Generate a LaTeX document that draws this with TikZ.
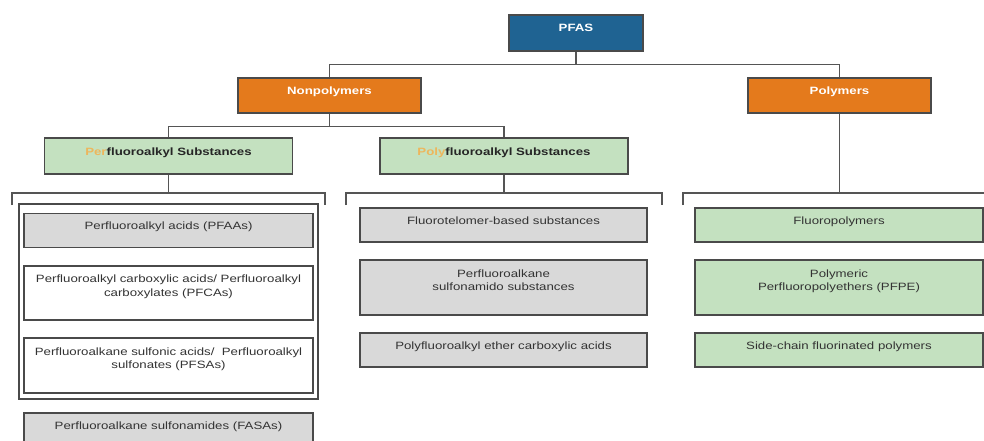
\documentclass[tikz,border=0pt]{standalone}
\usepackage{fontspec}
\setmainfont{Liberation Sans}[FakeStretch=1.25]
\definecolor{pfasblue}{HTML}{1F6392}
\definecolor{orangebox}{HTML}{E47A1C}
\definecolor{greenbox}{HTML}{C4E1C0}
\definecolor{graybox}{HTML}{D9D9D9}
\definecolor{boxline}{HTML}{4A4A4A}
\definecolor{wiregray}{HTML}{555555}
\definecolor{tint}{HTML}{EDB65C}
\definecolor{textgray}{HTML}{333333}
\tikzset{
  base/.style={draw=boxline, line width=1.3pt, inner sep=0pt, align=center, text=textgray,
    font=\fontsize{10.6}{13.5}\selectfont},
  oneline/.style={base, minimum height=34, text height=8pt, text depth=10pt},
  twoline/.style={base, minimum height=55, text depth=15pt},
  top/.style={oneline, fill=pfasblue, text=white, font=\fontsize{10.6}{13.5}\selectfont\bfseries,
    minimum width=134, minimum height=36},
  head/.style={oneline, fill=orangebox, text=white, font=\fontsize{10.6}{13.5}\selectfont\bfseries,
    minimum width=183, minimum height=35},
  sub/.style={oneline, fill=greenbox, text=black!85, font=\fontsize{10.6}{13.5}\selectfont\bfseries,
    minimum width=248, minimum height=36},
  frame/.style={draw=boxline, line width=1.3pt, minimum width=299, minimum height=195},
  link/.style={draw=wiregray, line width=1.3pt}
}
\begin{document}
\begin{tikzpicture}[x=1pt,y=1pt]
  \useasboundingbox (0,0) rectangle (984,-441);
  \node[top] (pfas) at (576,-33) {PFAS};
  \node[head] (nonpoly) at (329.5,-95.5) {Nonpolymers};
  \node[head] (poly) at (839.5,-95.5) {Polymers};
  \node[sub] (perfl) at (168.5,-156) {{\color{tint}Per}fluoroalkyl Substances};
  \node[sub] (polyfl) at (504,-156) {{\color{tint}Poly}fluoroalkyl Substances};
  \node[frame] (acids) at (168.5,-301.5) {};
  \node[oneline, fill=graybox, minimum width=289] (pfaa) at (168.5,-230.5) {Perfluoroalkyl acids (PFAAs)};
  \node[twoline, fill=white, minimum width=289, minimum height=54] (pfca) at (168.5,-293) {Perfluoroalkyl carboxylic acids/ Perfluoroalkyl\\carboxylates (PFCAs)};
  \node[twoline, fill=white, minimum width=289] (pfsa) at (168.5,-365.5) {Perfluoroalkane sulfonic acids/\ \ Perfluoroalkyl\\sulfonates (PFSAs)};
  \node[oneline, fill=graybox, minimum width=289] (fasa) at (168.5,-430) {Perfluoroalkane sulfonamides (FASAs)};
  \node[oneline, fill=graybox, minimum width=287] (ftel) at (503.5,-225) {Fluorotelomer-based substances};
  \node[twoline, fill=graybox, minimum width=287] (pfsm) at (503.5,-287.5) {Perfluoroalkane\\sulfonamido substances};
  \node[oneline, fill=graybox, minimum width=287] (pfec) at (503.5,-350) {Polyfluoroalkyl ether carboxylic acids};
  \node[oneline, fill=greenbox, minimum width=288] (fpol) at (839,-225) {Fluoropolymers};
  \node[twoline, fill=greenbox, minimum width=288] (pfpe) at (839,-287.5) {Polymeric\\Perfluoropolyethers (PFPE)};
  \node[oneline, fill=greenbox, minimum width=288] (scfp) at (839,-350) {Side-chain fluorinated polymers};
  \coordinate (perbl) at (12,-193);
  \coordinate (perbr) at (325,-193);
  \coordinate (polbl) at (346,-193);
  \coordinate (polbr) at (662,-193);
  \coordinate (fpbl) at (683,-193);
  \coordinate (fpbr) at (995,-193);
  \draw[link] (pfas.south) -- ++(0,-13) -| (nonpoly.north);
  \draw[link] (pfas.south) -- ++(0,-13) -| (poly.north);
  \draw[link] (nonpoly.south) -- ++(0,-13) -| (perfl.north);
  \draw[link] (nonpoly.south) -- ++(0,-13) -| (polyfl.north);
  \draw[link] (perfl.south) -- (perfl |- perbl);
  \draw[link] (polyfl.south) -- (polyfl |- polbl);
  \draw[link] (poly.south) -- (poly |- fpbl);
  \draw[link] ([yshift=-12]perbl) -- (perbl) -- (perbr) -- ([yshift=-12]perbr);
  \draw[link] ([yshift=-12]polbl) -- (polbl) -- (polbr) -- ([yshift=-12]polbr);
  \draw[link] ([yshift=-12]fpbl) -- (fpbl) -- (fpbr) -- ([yshift=-12]fpbr);
\end{tikzpicture}
\end{document}
